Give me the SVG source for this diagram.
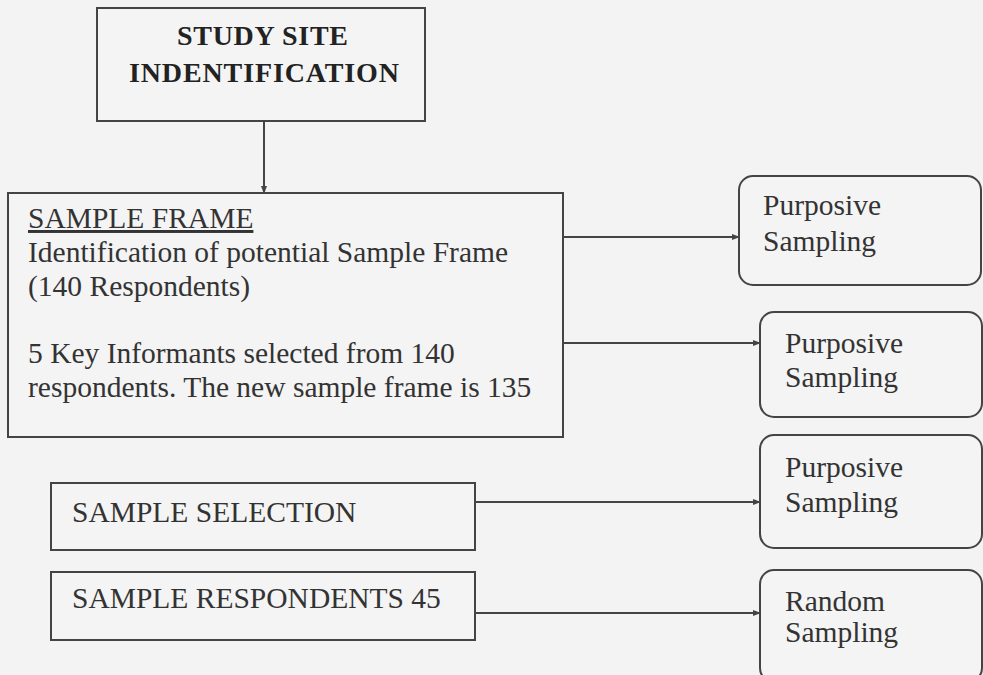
<svg xmlns="http://www.w3.org/2000/svg" width="983" height="675" viewBox="0 0 983 675">
<style>
.box{fill:#f4f4f4;stroke:#444;stroke-width:2}
.t{font-family:"Liberation Serif","Times New Roman",serif;font-size:29.5px;fill:#333}
.b{font-family:"Liberation Serif","Times New Roman",serif;font-size:28px;font-weight:bold;fill:#222}
.ln{stroke:#444;stroke-width:2;fill:none}
</style>
<defs>
<marker id="ah" markerWidth="8" markerHeight="8" refX="7" refY="4" orient="auto" markerUnits="userSpaceOnUse">
<path d="M0,1 L8,4 L0,7 Z" fill="#444"/>
</marker>
</defs>
<rect width="983" height="675" fill="#f3f3f3"/>
<g id="connectors">
<line class="ln" x1="264" y1="121" x2="264" y2="193" marker-end="url(#ah)"/>
<line class="ln" x1="563" y1="237" x2="739" y2="237" marker-end="url(#ah)"/>
<line class="ln" x1="563" y1="343" x2="760" y2="343" marker-end="url(#ah)"/>
<line class="ln" x1="475" y1="502" x2="760" y2="502" marker-end="url(#ah)"/>
<line class="ln" x1="475" y1="613" x2="760" y2="613" marker-end="url(#ah)"/>
</g>
<g id="study-site">
<rect class="box" x="97" y="8" width="328" height="113"/>
<text class="b" x="177" y="45" textLength="171" lengthAdjust="spacing">STUDY SITE</text>
<text class="b" x="129" y="82" textLength="270" lengthAdjust="spacing">INDENTIFICATION</text>
</g>
<g id="sample-frame">
<rect class="box" x="8" y="193" width="555" height="244"/>
<text class="t" x="28" y="228" text-decoration="underline">SAMPLE FRAME</text>
<text class="t" x="28" y="262">Identification of potential Sample Frame</text>
<text class="t" x="28" y="296">(140 Respondents)</text>
<text class="t" x="28" y="363">5 Key Informants selected from 140</text>
<text class="t" x="28" y="397">respondents. The new sample frame is 135</text>
</g>
<g id="sample-selection">
<rect class="box" x="51" y="483" width="424" height="67"/>
<text class="t" x="72" y="522">SAMPLE SELECTION</text>
</g>
<g id="sample-respondents">
<rect class="box" x="51" y="572" width="424" height="68"/>
<text class="t" x="72" y="608">SAMPLE RESPONDENTS 45</text>
</g>
<g id="purposive-1">
<rect class="box" x="739" y="176" width="242" height="109" rx="14"/>
<text class="t" x="763" y="215">Purposive</text>
<text class="t" x="763" y="251">Sampling</text>
</g>
<g id="purposive-2">
<rect class="box" x="760" y="312" width="222" height="105" rx="14"/>
<text class="t" x="785" y="353">Purposive</text>
<text class="t" x="785" y="387">Sampling</text>
</g>
<g id="purposive-3">
<rect class="box" x="760" y="435" width="222" height="113" rx="14"/>
<text class="t" x="785" y="477">Purposive</text>
<text class="t" x="785" y="512">Sampling</text>
</g>
<g id="random">
<rect class="box" x="760" y="570" width="222" height="112" rx="14"/>
<text class="t" x="785" y="611">Random</text>
<text class="t" x="785" y="642">Sampling</text>
</g>
</svg>
